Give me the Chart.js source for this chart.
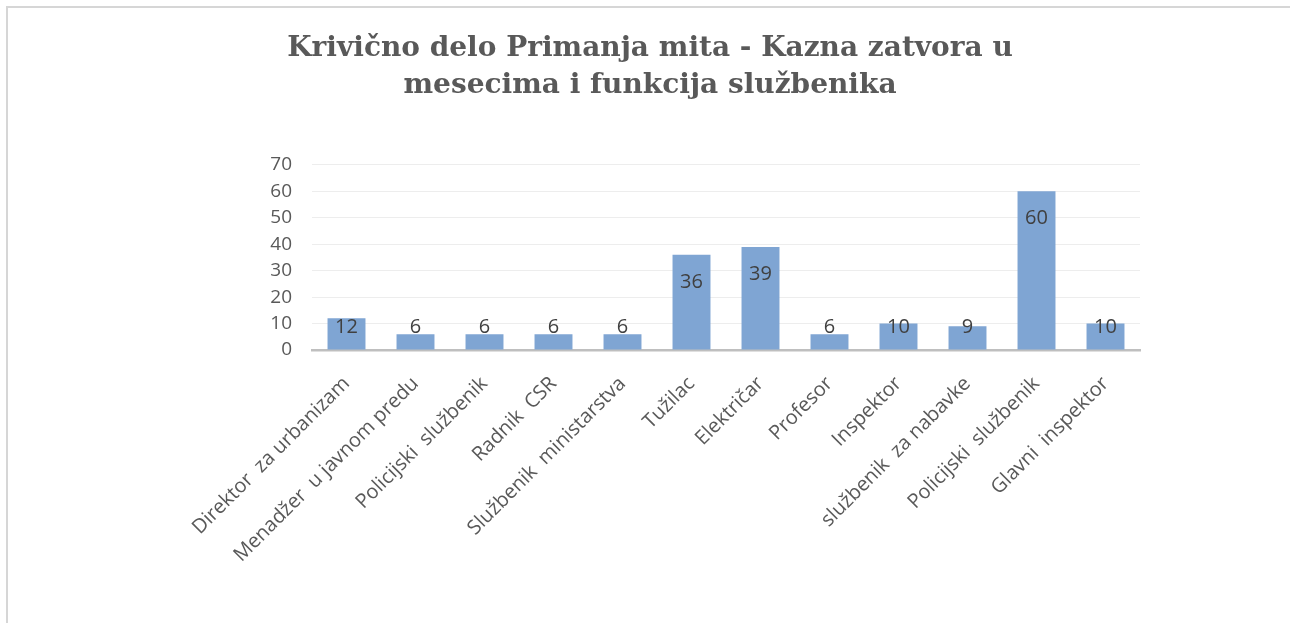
<!DOCTYPE html>
<html>
<head>
<meta charset="utf-8">
<script src="https://cdn.jsdelivr.net/npm/chart.js@4.4.1/dist/chart.umd.min.js"></script>
<style>
    html, body { margin: 0; padding: 0; background: #fff; overflow: hidden; }
    #frame {
        position: absolute; left: 6px; top: 6px; width: 1300px; height: 640px;
        border-top: 2px solid #d6d6d6; border-left: 2px solid #d6d6d6;
    }
    #wrap { position: absolute; left: 0; top: 0; width: 1290px; height: 623px; }
</style>
</head>
<body>
<div id="frame"></div>
<div id="wrap"><canvas id="chart" width="1290" height="623"></canvas></div>
<script>
// Chart data
const titleLines = ['Krivično delo Primanja mita - Kazna zatvora u', 'mesecima i funkcija službenika'];
const categories = [
    'Direktor  za urbanizam', 'Menadžer  u javnom predu', 'Policijski  službenik', 'Radnik  CSR',
    'Službenik  ministarstva', 'Tužilac', 'Električar', 'Profesor', 'Inspektor',
    'službenik  za nabavke', 'Policijski  službenik', 'Glavni  inspektor'
];
const months = [12, 6, 6, 6, 6, 36, 39, 6, 10, 9, 60, 10];
const yTicks = [0, 10, 20, 30, 40, 50, 60, 70];

// Value labels inside the top of each bar (Excel "inside end")
const valueLabels = {
    id: 'valueLabels',
    afterDatasetsDraw(chart) {
        const ctx = chart.ctx;
        const meta = chart.getDatasetMeta(0);
        const base = chart.scales.y.getPixelForValue(0);
        ctx.save();
        ctx.font = '20px "Open Sans"';
        ctx.fillStyle = '#404040';
        ctx.textAlign = 'center';
        ctx.textBaseline = 'middle';
        meta.data.forEach((bar, i) => {
            const y = Math.min(bar.y + 27, base - 23);
            ctx.fillText(String(months[i]), bar.x, y);
        });
        ctx.restore();
    }
};

new Chart(document.getElementById('chart'), {
    type: 'bar',
    data: {
        labels: categories,
        datasets: [{
            data: months,
            backgroundColor: '#7fa5d3',
            categoryPercentage: 1,
            barPercentage: 0.55
        }]
    },
    options: {
        responsive: false,
        animation: false,
        layout: { padding: { left: 10, right: 0 } },
        plugins: {
            legend: { display: false },
            tooltip: { enabled: false },
            title: {
                display: true,
                text: titleLines,
                color: '#595959',
                font: { family: '"DejaVu Serif"', size: 28, weight: 'bold', lineHeight: 1.32 },
                padding: { top: 30, bottom: 61 }
            }
        },
        scales: {
            x: {
                grid: { display: false },
                border: { display: true, color: '#bfbfbf', width: 2.5 },
                ticks: {
                    color: '#595959',
                    font: { family: '"Open Sans"', size: 20 },
                    maxRotation: 45,
                    minRotation: 45,
                    autoSkip: false,
                    padding: 14
                },
                afterFit(scale) { scale.height = 273; }
            },
            y: {
                min: 0,
                max: 70,
                afterBuildTicks(scale) { scale.ticks = yTicks.map(v => ({ value: v })); },
                grid: { color: '#ededed', lineWidth: 1, drawTicks: false },
                border: { display: false },
                ticks: {
                    color: '#595959',
                    font: { family: '"Open Sans"', size: 19 },
                    padding: 20
                },
                afterFit(scale) { scale.width = 302; }
            },
            rightSpace: {
                position: 'right',
                display: true,
                grid: { display: false },
                border: { display: false },
                ticks: { display: false },
                afterFit(scale) { scale.width = 150; }
            }
        }
    },
    plugins: [valueLabels]
});
</script>
</body>
</html>
